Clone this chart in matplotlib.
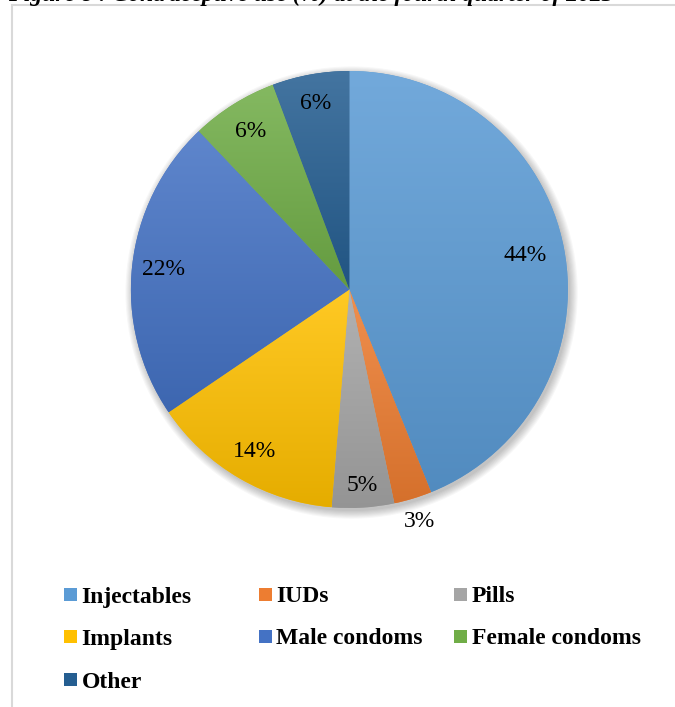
import matplotlib.pyplot as plt
import numpy as np
from matplotlib.colors import to_rgb
from matplotlib.patches import Rectangle, Circle

title = "Figure 8 : Contraceptive use (%) at the fourth quarter of 2023"
methods = ["Injectables", "IUDs", "Pills", "Implants",
           "Male condoms", "Female condoms", "Other"]
shares = [43.9, 2.8, 4.6, 14.2, 22.4, 6.4, 5.7]
colors = ["#5B9BD5", "#ED7D31", "#A5A5A5", "#FFC000",
          "#4472C4", "#70AD47", "#255E91"]

# label distance from centre (fraction of radius), per slice
label_radius = [0.82, 1.11, 0.90, 0.86, 0.855, 0.855, 0.866]

serif = ["Liberation Serif", "DejaVu Serif"]
W, H = 675, 707

fig = plt.figure(figsize=(W / 100, H / 100), dpi=100)

# chart frame (cut off at right and bottom)
fig.patches.append(Rectangle((11.5 / W, -0.1), 1.2, 1.1 - 5 / H,
                             transform=fig.transFigure, fill=False,
                             edgecolor="#D9D9D9", lw=1.5))

# caption, mostly cropped away at the top as in the source page
fig.text(8 / W, 1 - 0.5 / H, title, family=serif, fontsize=17,
         fontweight="bold", style="italic", va="baseline", ha="left")

cx, cy, r = 349.4, 289.5, 218.5
ax = fig.add_axes([(cx - r) / W, (H - cy - r) / H, 2 * r / W, 2 * r / H])

wedges, texts, autotexts = ax.pie(
    shares, colors=colors, startangle=90, counterclock=False, radius=1,
    autopct=lambda p: "%.0f%%" % p,
    textprops=dict(family=serif, fontsize=17, color="black"))

# soft shadow to the lower right
for k in range(8):
    ax.add_patch(Circle((0.010, -0.014), 1.0 + k * 0.005, color="black",
                        alpha=0.03, lw=0, zorder=0, clip_on=False))

# vertical gradient fill per slice
def shade(c, f):
    c = np.array(to_rgb(c))
    return c + (1 - c) * f if f > 0 else c * (1 + f)

for w, c in zip(wedges, colors):
    w.set_clip_on(False)
    x0, y0, x1, y1 = w.get_path().get_extents().extents
    top, bot = shade(c, 0.14), shade(c, -0.10)
    t = np.linspace(0, 1, 64)[:, None, None]
    grad = bot + (top - bot) * t
    im = ax.imshow(grad, extent=[x0, x1, y0, y1], origin="lower",
                   aspect="auto", zorder=w.get_zorder() + 0.1,
                   interpolation="bilinear")
    im.set_clip_path(w)

for w, t, d in zip(wedges, autotexts, label_radius):
    a = np.deg2rad((w.theta1 + w.theta2) / 2)
    t.set_position((d * np.cos(a), d * np.sin(a)))
    t.set_zorder(5)

ax.set_xlim(-1, 1)
ax.set_ylim(-1, 1)
ax.axis("off")

# legend, three equal-width columns
col_x = [64, 259, 454]
row_y = [594.5, 636.5, 679.5]
for i, (name, c) in enumerate(zip(methods, colors)):
    mx, my = col_x[i % 3], row_y[i // 3]
    fig.patches.append(Rectangle((mx / W, (H - my - 6.5) / H), 12.5 / W, 13 / H,
                                 transform=fig.transFigure, facecolor=c,
                                 edgecolor="none"))
    fig.text((mx + 17.5) / W, (H - my) / H, name, family=serif, fontsize=17,
             fontweight="bold", va="center_baseline", ha="left")

fig.savefig("out.png", dpi=100)
